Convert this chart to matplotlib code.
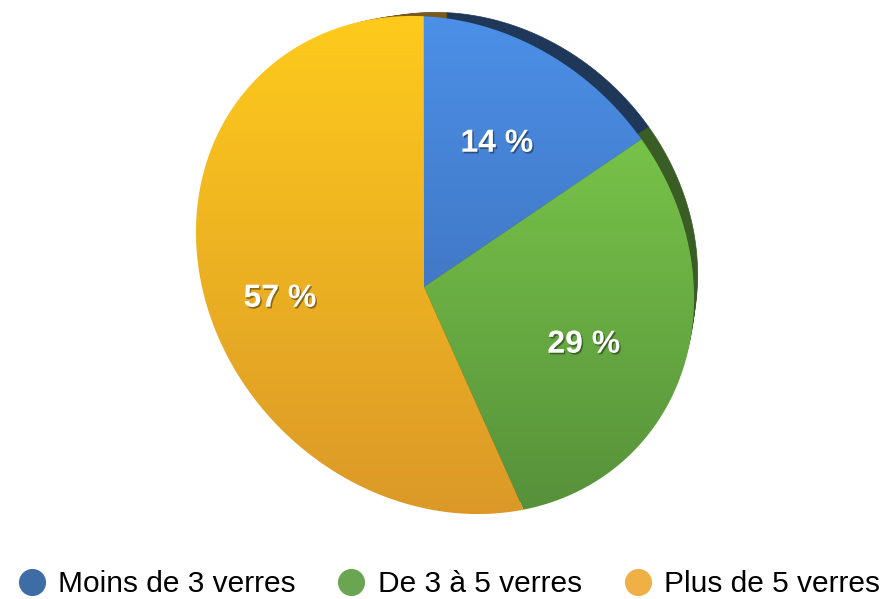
import numpy as np
import matplotlib
matplotlib.use("Agg")
import matplotlib.pyplot as plt
from matplotlib.patches import Polygon
from matplotlib.lines import Line2D
from matplotlib.colors import LinearSegmentedColormap
import matplotlib.patheffects as pe

# ---------------- data ----------------
categories = ["Moins de 3 verres", "De 3 à 5 verres", "Plus de 5 verres"]
values = [14, 29, 57]

# ---------------- style ----------------
face_top = ["#4c90e8", "#82d44e", "#fecb1c"]
face_bottom = ["#3865aa", "#56903a", "#db9828"]
rim_colors = ["#1f3859", "#3a5c25", "#7a5a1c"]
legend_colors = ["#3e6da6", "#6aa552", "#efb045"]

W, H = 892, 599
plt.rcParams["font.family"] = ["Liberation Sans", "DejaVu Sans"]

fig = plt.figure(figsize=(W / 100, H / 100), dpi=100)

# pie computed on a hidden axes (unit circle), then projected in perspective
pax = fig.add_axes([0, 0, 0.01, 0.01])
wedges, texts, autotexts = pax.pie(
    values, startangle=90, counterclock=False,
    autopct=lambda p: f"{p:.0f} %", pctdistance=0.64)
pax.set_visible(False)

ax = fig.add_axes([0, 0, 1, 1])
ax.set_xlim(0, W)
ax.set_ylim(H, 0)
ax.axis("off")

# perspective projection parameters (layout)
CX, CY = 445.0, 265.0          # ellipse centre (pixels)
A_AX, B_AX = 265.0, 232.0      # semi axes
ROT = np.deg2rad(41.0)
NANG = np.deg2rad(-88.8)
V = 0.131
TILT = np.deg2rad(-45.0)


def project(px, py):
    px = np.asarray(px, float)
    py = np.asarray(py, float)
    x = px * np.cos(ROT) - py * np.sin(ROT)
    y = px * np.sin(ROT) + py * np.cos(ROT)
    nx, ny = np.cos(NANG), np.sin(NANG)
    par = x * nx + y * ny
    perx = x - par * nx
    pery = y - par * ny
    g = 1.0 / np.sqrt(1 - V ** 2)
    w = g * (1 + V * par)
    par2 = g * (par + V) / w
    x = par2 * nx + perx / w
    y = par2 * ny + pery / w
    x = x * A_AX
    y = y * B_AX
    X = x * np.cos(TILT) - y * np.sin(TILT)
    Y = x * np.sin(TILT) + y * np.cos(TILT)
    return CX + X, CY - Y


def wedge_xy(wd):
    t = np.deg2rad(np.linspace(wd.theta1, wd.theta2, 300))
    px = np.concatenate([[0.0], np.cos(t) * wd.r, [0.0]])
    py = np.concatenate([[0.0], np.sin(t) * wd.r, [0.0]])
    X, Y = project(px, py)
    return np.column_stack([X, Y])


# back face (rim): shrunk and shifted copy
SHRINK = 0.93
DX, DY = 21.0, -21.0
for k in np.linspace(0.25, 1.0, 6):
    for wd, rc in zip(wedges, rim_colors):
        xy = wedge_xy(wd)
        s = 1 - (1 - SHRINK) * k
        bx = CX + (xy[:, 0] - CX) * s + DX * k
        by = CY + (xy[:, 1] - CY) * s + DY * k
        ax.add_patch(Polygon(np.column_stack([bx, by]), closed=True,
                             facecolor=rc, edgecolor=rc, lw=0.5, zorder=1))

# front faces with vertical gradient
grad = np.linspace(0, 1, 256)[:, None]
for wd, ct, cb in zip(wedges, face_top, face_bottom):
    xy = wedge_xy(wd)
    poly = Polygon(xy, closed=True, facecolor="none", edgecolor="none", zorder=2)
    ax.add_patch(poly)
    cmap = LinearSegmentedColormap.from_list("g", [ct, cb])
    im = ax.imshow(grad, cmap=cmap, extent=(190, 710, 520, 10), origin="upper",
                   aspect="auto", interpolation="bilinear", zorder=2)
    im.set_clip_path(poly)

# percentage labels, positions from the pie, projected
for t in autotexts:
    x0, y0 = t.get_position()
    X, Y = project(x0, y0)
    ax.text(float(X), float(Y), t.get_text(), color="white", fontsize=23,
            fontweight="bold", ha="center", va="center", zorder=5,
            path_effects=[pe.withSimplePatchShadow(offset=(1.0, -1.2),
                                                   shadow_rgbFace="black",
                                                   alpha=0.4)])

ax.set_xlim(0, W)
ax.set_ylim(H, 0)

handles = [Line2D([], [], marker="o", ls="", markersize=18.5,
                  markerfacecolor=c, markeredgecolor=c) for c in legend_colors]
fig.legend(handles, categories, loc="center", bbox_to_anchor=(450 / W, 1 - 584 / H),
           ncol=3, frameon=False, fontsize=21.5, handlelength=0.8,
           handletextpad=0.5, columnspacing=1.45, borderpad=0)

fig.savefig("out.png", dpi=100)
